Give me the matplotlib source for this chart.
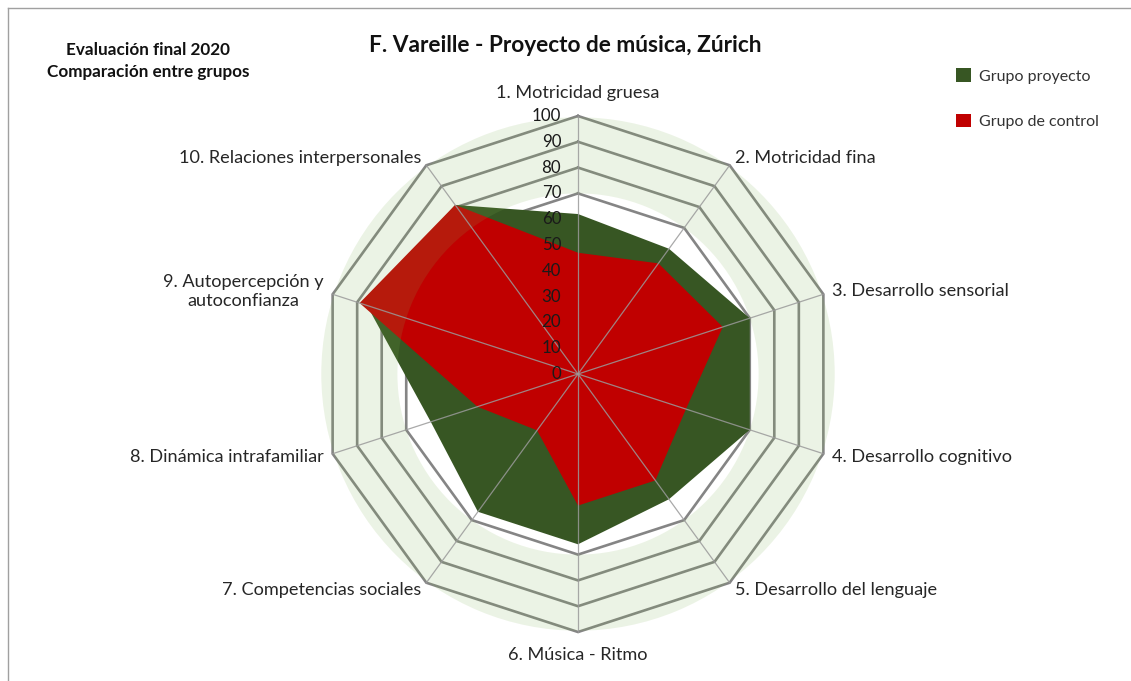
import numpy as np
import matplotlib.pyplot as plt
from matplotlib.patches import Wedge, Patch
from matplotlib.lines import Line2D

plt.rcParams['font.family'] = ['Lato', 'DejaVu Sans']

categorias = ['1. Motricidad gruesa', '2. Motricidad fina', '3. Desarrollo sensorial',
              '4. Desarrollo cognitivo', '5. Desarrollo del lenguaje', '6. Música - Ritmo',
              '7. Competencias sociales', '8. Dinámica intrafamiliar',
              '9. Autopercepción y\nautoconfianza', '10. Relaciones interpersonales']
proyecto = [62, 60, 70, 70, 60, 66, 66, 60, 86, 81]
control = [47, 53, 59, 44, 51, 51, 27, 41, 89, 81]
ticks = [0, 10, 20, 30, 40, 50, 60, 70, 80, 90, 100]
anillos = [70, 80, 90, 100]

verde = '#375623'
rojo = '#C00000'

# pixels per unit: radius 100 -> 258 px, center at (578, 374) px
k = 2.58
W, H = 1131, 681
cx, cy = 578, 374

fig = plt.figure(figsize=(W / 100, H / 100), dpi=100)
ax = fig.add_axes([0, 0, 1, 1])
ax.set_xlim(-cx / k, (W - cx) / k)
ax.set_ylim(-(H - cy) / k, cy / k)
ax.axis('off')

n = len(categorias)
ang = np.arange(n) * 2 * np.pi / n

def xy(vals):
    v = np.array(list(vals) + [vals[0]], dtype=float)
    a = np.append(ang, ang[0])
    return v * np.sin(a), v * np.cos(a)

# grid rings
for r in anillos:
    x, y = xy([r] * n)
    ax.plot(x, y, color='#858585', lw=1.9, zorder=2, solid_joinstyle='miter')

# series
x, y = xy(proyecto)
ax.fill(x, y, color=verde, lw=0, zorder=3)
x, y = xy(control)
ax.fill(x, y, color=rojo, lw=0, zorder=4)

# light green ring overlay
ax.add_patch(Wedge((0, 0), 99.5, 0, 360, width=29.5, facecolor='#7DAF51',
                   alpha=0.15, lw=0, zorder=5))

# spokes
for a in ang:
    ax.plot([0, 100 * np.sin(a)], [0, 100 * np.cos(a)], color='#9a9a9a',
            lw=0.9, alpha=0.85, zorder=6)

# radial tick labels
for t in ticks:
    ax.text(-6.5, t, str(t), ha='right', va='center', fontsize=12.2,
            color='#1a1a1a', zorder=7)

# category labels
for a, lab in zip(ang, categorias):
    s, c = np.sin(a), np.cos(a)
    if abs(c) > 0.9:
        pad = 15 / k
    else:
        pad = 9 / k
    px = (100 + pad) * s
    py = (100 + pad) * c
    ha = 'left' if s > 0.1 else ('right' if s < -0.1 else 'center')
    va = 'bottom' if c > 0.9 else ('top' if c < -0.9 else 'center')
    ax.text(px, py, lab, ha=ha, va=va, multialignment='center',
            fontsize=13.1, color='#262626', linespacing=1.3)

# titles
ax.text((565 - cx) / k, (cy - 46) / k, 'F. Vareille - Proyecto de música, Zúrich',
        ha='center', va='center', fontsize=16.3, fontweight='bold', color='#111111')
ax.text((148 - cx) / k, (cy - 61) / k, 'Evaluación final 2020\nComparación entre grupos',
        ha='center', va='center', fontsize=12.3, fontweight='bold', color='#111111',
        linespacing=1.45)

# legend
handles = [Patch(facecolor=verde, edgecolor='none'), Patch(facecolor=rojo, edgecolor='none')]
fig.legend(handles, ['Grupo proyecto', 'Grupo de control'], loc='upper left',
           bbox_to_anchor=(942 / W, 1 - 54 / H), frameon=False, fontsize=11.5,
           handlelength=0.9, handleheight=0.9, handletextpad=0.5, labelspacing=1.9,
           labelcolor='#333333')

# chart border (partly cut off in the reference)
fig.add_artist(Line2D([8 / W, 8 / W], [0, 1 - 8 / H], color='#a0a0a0', lw=1))
fig.add_artist(Line2D([8 / W, 1], [1 - 8 / H, 1 - 8 / H], color='#a0a0a0', lw=1))

fig.savefig('out.png', dpi=100)
